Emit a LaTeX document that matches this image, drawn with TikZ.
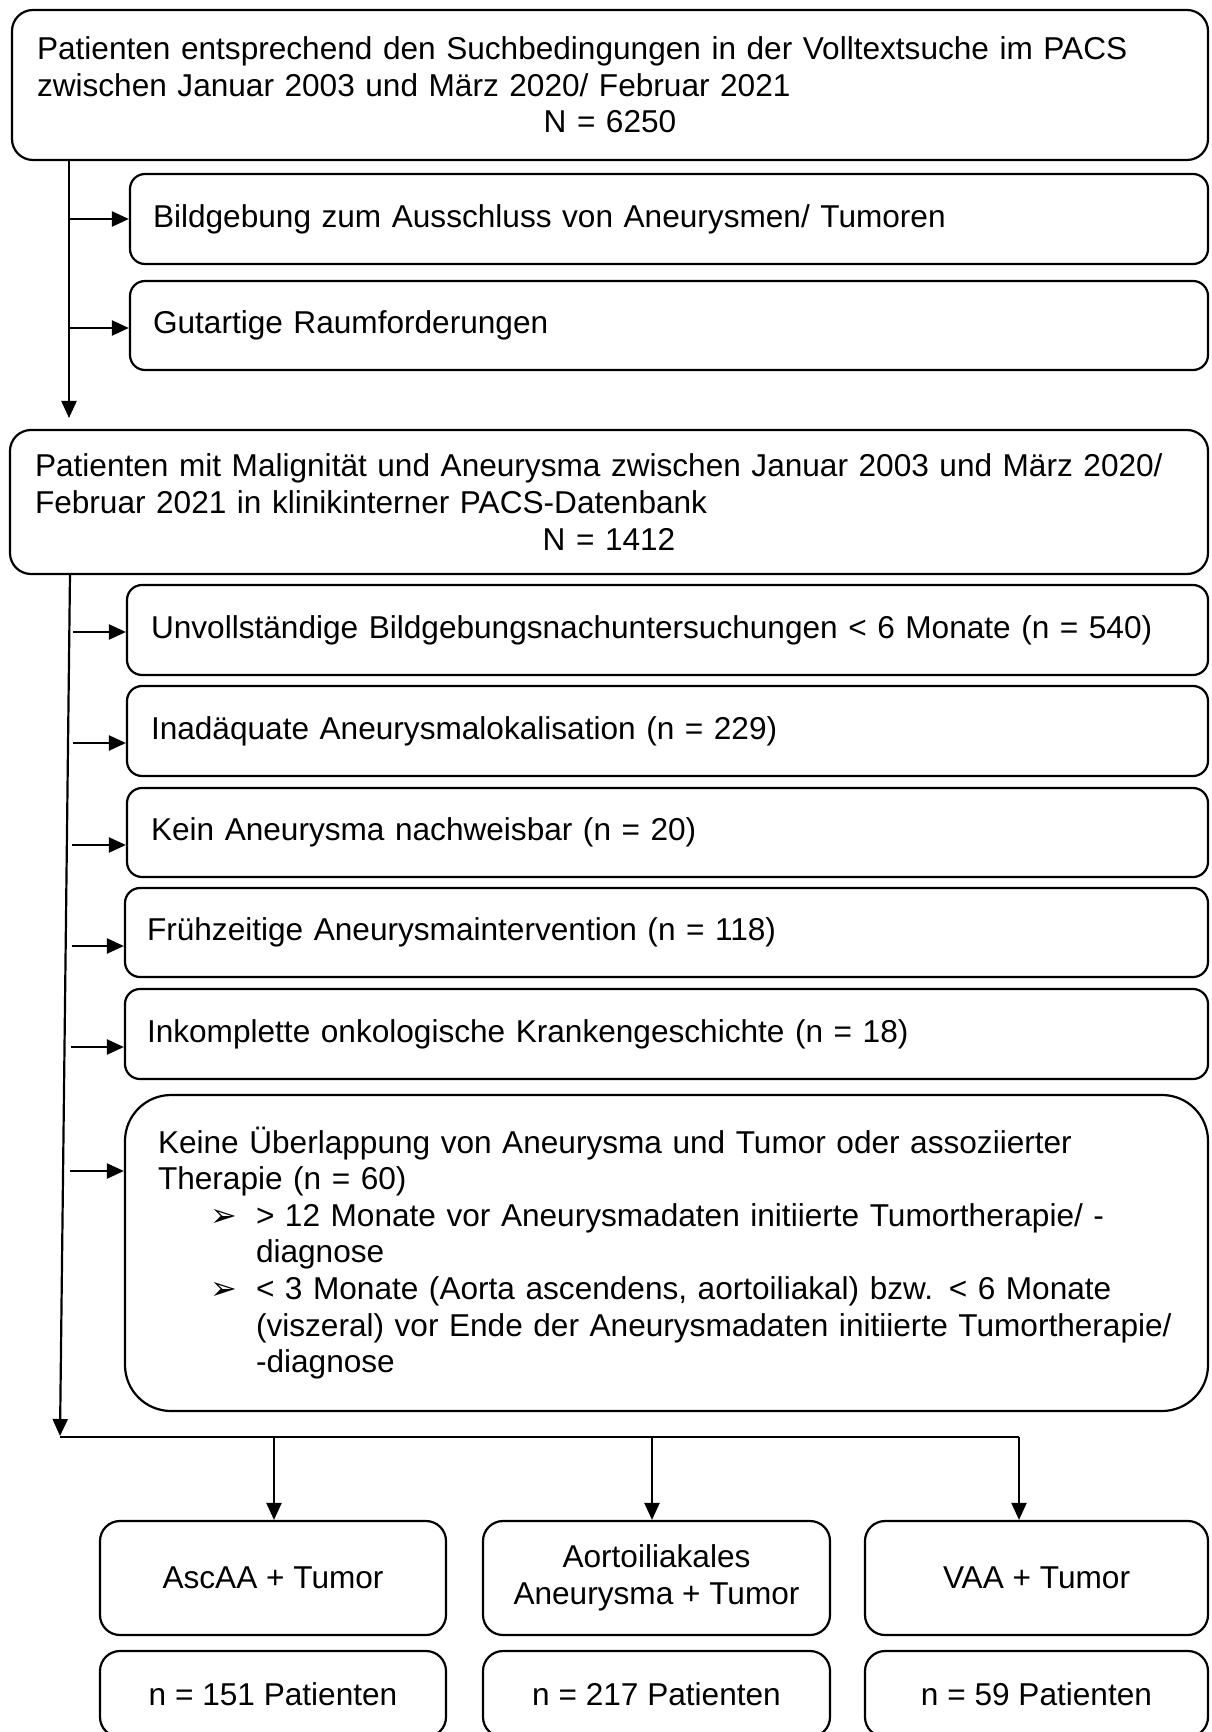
\documentclass[tikz,border=0pt]{standalone}
\usepackage{fontspec}
\setmainfont{Liberation Sans}
\newfontfamily\dejavu{DejaVu Sans}
\usetikzlibrary{arrows.meta}
\newcommand{\mybul}{\smash{\raisebox{0pt}{\dejavu\fontsize{16}{16}\selectfont ➢}}}
\begin{document}
\begin{tikzpicture}[x=0.5pt,y=-0.5pt,
  box/.style={draw, line width=1.1pt, rounded corners=7.5pt, font=\fontsize{15.8}{18.3}\selectfont, inner ysep=0pt, anchor=center},
  lbox/.style={box, align=left},
  cbox/.style={box, align=center},
  conn/.style={line width=1.1pt},
  arr/.style={conn, -{Triangle[length=8.5pt,width=7.5pt]}}
]
\useasboundingbox (0,0) rectangle (1211,1732);

% main boxes
\node[lbox, rounded corners=10.5pt, minimum width=598pt, minimum height=75pt, text width=573pt, inner xsep=12.5pt] (top) at (610,85)
  {Patienten entsprechend den Suchbedingungen in der Volltextsuche im PACS\\
   zwischen Januar 2003 und März 2020/ Februar 2021\\
   \makebox[573pt]{N = 6250}};
\node[lbox, minimum width=539pt, minimum height=45pt, text width=516pt, inner xsep=11.5pt] (b1) at (669,219)
  {Bildgebung zum Ausschluss von Aneurysmen/ Tumoren};
\node[lbox, minimum width=539pt, minimum height=44.5pt, text width=516pt, inner xsep=11.5pt] (b2) at (669,325.5)
  {Gutartige Raumforderungen};
\node[lbox, rounded corners=10.5pt, minimum width=599pt, minimum height=72pt, text width=574pt, inner xsep=12.5pt] (mid) at (609,502)
  {Patienten mit Malignität und Aneurysma zwischen Januar 2003 und März 2020/\\
   Februar 2021 in klinikinterner PACS-Datenbank\\
   \makebox[574pt]{N = 1412}};
\node[lbox, minimum width=540.5pt, minimum height=45pt, text width=516.5pt, inner xsep=12pt] (e1) at (667.5,630)
  {Unvollständige Bildgebungsnachuntersuchungen < 6 Monate (n = 540)};
\node[lbox, minimum width=540.5pt, minimum height=45pt, text width=516.5pt, inner xsep=12pt] (e2) at (667.5,731)
  {Inadäquate Aneurysmalokalisation (n = 229)};
\node[lbox, minimum width=540.5pt, minimum height=44.5pt, text width=516.5pt, inner xsep=12pt] (e3) at (667.5,832.5)
  {Kein Aneurysma nachweisbar (n = 20)};
\node[lbox, minimum width=541.5pt, minimum height=44.5pt, text width=519.5pt, inner xsep=11pt] (e4) at (666.5,932.5)
  {Frühzeitige Aneurysmaintervention (n = 118)};
\node[lbox, minimum width=541.5pt, minimum height=45pt, text width=519.5pt, inner xsep=11pt] (e5) at (666.5,1034)
  {Inkomplette onkologische Krankengeschichte (n = 18)};
\node[lbox, rounded corners=23pt, minimum width=541.5pt, minimum height=158pt, text width=508.5pt, inner xsep=16.5pt] (e6) at (666.5,1253)
  {Keine Überlappung von Aneurysma und Tumor oder assoziierter\\
   Therapie (n = 60)\\
   \hspace*{26pt}\makebox[23pt][l]{\mybul}\mbox{> 12 Monate vor Aneurysmadaten initiierte Tumortherapie/ -}\\
   \hspace*{49pt}\mbox{diagnose}\\
   \hspace*{26pt}\makebox[23pt][l]{\mybul}\mbox{< 3 Monate (Aorta ascendens, aortoiliakal) bzw. < 6 Monate}\\
   \hspace*{49pt}\mbox{(viszeral) vor Ende der Aneurysmadaten initiierte Tumortherapie/}\\
   \hspace*{49pt}\mbox{-diagnose}};

% group boxes
\node[cbox, rounded corners=10pt, minimum width=173pt, minimum height=57pt] (g1) at (273,1578) {AscAA + Tumor};
\node[cbox, rounded corners=10pt, minimum width=173.5pt, minimum height=57pt] (g2) at (656.5,1578) {Aortoiliakales\\Aneurysma + Tumor};
\node[cbox, rounded corners=10pt, minimum width=171.5pt, minimum height=57pt] (g3) at (1036.5,1578) {VAA + Tumor};
\node[cbox, rounded corners=10pt, minimum width=173pt, minimum height=43pt] (n1) at (273,1694) {n = 151 Patienten};
\node[cbox, rounded corners=10pt, minimum width=173.5pt, minimum height=43pt] (n2) at (656.5,1694) {n = 217 Patienten};
\node[cbox, rounded corners=10pt, minimum width=171.5pt, minimum height=43pt] (n3) at (1036.5,1694) {n = 59 Patienten};

% connectors
\coordinate (v1s) at (69,160);
\coordinate (v1e) at (69,418);
\draw[arr] (v1s) -- (v1e);
\coordinate (ab1) at (69,219);
\coordinate (ab2) at (69,328);
\draw[arr] (ab1) -- (ab1 -| b1.west);
\draw[arr] (ab2) -- (ab2 -| b2.west);

\coordinate (v2s) at (70,574);
\coordinate (v2e) at (60,1436);
\draw[arr] (v2s) -- (v2e);
\coordinate (ae1) at (73,632);
\coordinate (ae2) at (72.5,743);
\coordinate (ae3) at (72,845);
\coordinate (ae4) at (71.5,946);
\coordinate (ae5) at (71,1047);
\coordinate (ae6) at (70,1171);
\draw[arr] (ae1) -- (ae1 -| e1.west);
\draw[arr] (ae2) -- (ae2 -| e2.west);
\draw[arr] (ae3) -- (ae3 -| e3.west);
\draw[arr] (ae4) -- (ae4 -| e4.west);
\draw[arr] (ae5) -- (ae5 -| e5.west);
\draw[arr] (ae6) -- (ae6 -| e6.west);

\coordinate (hL) at (60,1437);
\coordinate (hR) at (1019,1437);
\draw[conn] (hL) -- (hR);
\coordinate (d1) at (274,1437);
\coordinate (d2) at (652,1437);
\draw[arr] (d1) -- (d1 |- g1.north);
\draw[arr] (d2) -- (d2 |- g2.north);
\draw[arr] (hR) -- (hR |- g3.north);
\end{tikzpicture}
\end{document}
